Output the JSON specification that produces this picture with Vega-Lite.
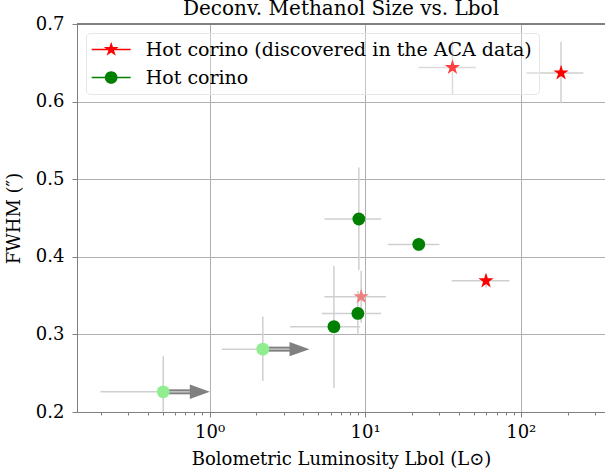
{
  "$schema": "https://vega.github.io/schema/vega-lite/v6.json",
  "width": 528,
  "height": 388,
  "autosize": {"type": "none"},
  "padding": {"left": 77, "top": 24, "right": 0, "bottom": 63},
  "background": "white",
  "title": {"text": "Deconv. Methanol Size vs. Lbol", "font": "DejaVu Serif", "fontSize": 20, "fontWeight": "normal", "color": "#000000", "anchor": "middle", "baseline": "alphabetic", "frame": "group", "offset": -20},
  "datasets": {
    "pts": [
      {"id": "s1", "group": "ACA", "L": 36.4, "Llo": 22.0, "Lhi": 51.4, "F": 0.644, "Flo": 0.61, "Fhi": 0.678},
      {"id": "s2", "group": "ACA", "L": 181.5, "Llo": 109, "Lhi": 252.6, "F": 0.637, "Flo": 0.598, "Fhi": 0.677},
      {"id": "s3", "group": "ACA", "L": 59.8, "Llo": 36.0, "Lhi": 84.5, "F": 0.369, "Flo": 0.36, "Fhi": 0.378},
      {"id": "s4", "group": "ACA (light)", "L": 9.43, "Llo": 5.48, "Lhi": 13.58, "F": 0.3486, "Flo": 0.315, "Fhi": 0.382},
      {"id": "g1", "group": "HC", "L": 9.11, "Llo": 5.48, "Lhi": 12.67, "F": 0.4487, "Flo": 0.383, "Fhi": 0.515},
      {"id": "g2", "group": "HC", "L": 22.1, "Llo": 14.0, "Lhi": 30.0, "F": 0.416, "Flo": 0.407, "Fhi": 0.425},
      {"id": "g3", "group": "HC", "L": 8.98, "Llo": 5.27, "Lhi": 12.67, "F": 0.327, "Flo": 0.299, "Fhi": 0.356},
      {"id": "g4", "group": "HC", "L": 6.3, "Llo": 3.3, "Lhi": 9.29, "F": 0.31, "Flo": 0.231, "Fhi": 0.388},
      {"id": "l1", "group": "HC (light)", "L": 2.2, "Llo": 1.2, "Lhi": 4.0, "F": 0.281, "Flo": 0.24, "Fhi": 0.323},
      {"id": "l2", "group": "HC (light)", "L": 0.504, "Llo": 0.199, "Lhi": 0.8, "F": 0.226, "Flo": 0.18, "Fhi": 0.272}
    ],
    "arrows": [
      {"L0": 0.504, "L1": 0.752, "Lh": 0.866, "F": 0.226},
      {"L0": 2.2, "L1": 3.3, "Lh": 3.785, "F": 0.281}
    ],
    "leg": [
      {"series": "Hot corino (discovered in the ACA data)", "L": 1, "F": 0.1},
      {"series": "Hot corino", "L": 1, "F": 0.1}
    ]
  },
  "config": {
    "view": {"stroke": null},
    "legend": {
      "orient": "top-left", "offset": 9, "padding": 6.5,
      "fillColor": "rgba(255,255,255,0.25)", "strokeColor": "#e6e6e6", "cornerRadius": 4,
      "labelFont": "DejaVu Serif", "labelFontSize": 19, "labelColor": "#000000", "labelLimit": 1000,
      "labelOffset": 24.5, "symbolOffset": 8.7, "rowPadding": 8, "symbolStrokeWidth": 0, "symbolSize": 400
    }
  },
  "layer": [
    {
      "data": {"name": "pts"},
      "mark": {"type": "rule", "color": "#cfcfcf", "strokeWidth": 1.5, "clip": true},
      "encoding": {
        "x": {"field": "Llo", "type": "quantitative", "title": "Bolometric Luminosity Lbol (L⊙)",
          "scale": {"type": "log", "domain": [0.1407, 347.8], "nice": false},
          "axis": {
            "values": [0.2, 0.3, 0.4, 0.5, 0.6, 0.7, 0.8, 0.9, 1, 2, 3, 4, 5, 6, 7, 8, 9, 10, 20, 30, 40, 50, 60, 70, 80, 90, 100, 200, 300],
            "labelExpr": "datum.value == 1 ? '10⁰' : datum.value == 10 ? '10¹' : datum.value == 100 ? '10²' : ''",
            "grid": true, "gridColor": "#b0b0b0", "gridWidth": 1,
            "gridOpacity": {"condition": {"test": "datum.value == 1 || datum.value == 10 || datum.value == 100", "value": 1}, "value": 0},
            "tickSize": {"condition": {"test": "datum.value == 1 || datum.value == 10 || datum.value == 100", "value": 5}, "value": 3},
            "tickColor": "#808080", "domainColor": "#808080",
            "labelFont": "DejaVu Serif", "labelFontSize": 18, "labelColor": "#000000", "labelPadding": 6,
            "labelOverlap": false, "labelFlush": false,
            "titleFont": "DejaVu Serif", "titleFontSize": 18, "titleFontWeight": "normal", "titleColor": "#000000",
            "titleBaseline": "alphabetic", "titleY": 52
          }
        },
        "x2": {"field": "Lhi"},
        "y": {"field": "F", "type": "quantitative", "title": "FWHM (″)",
          "scale": {"domain": [0.2, 0.7], "nice": false, "zero": false},
          "axis": {
            "values": [0.2, 0.3, 0.4, 0.5, 0.6, 0.7], "format": ".1f",
            "grid": true, "gridColor": "#b0b0b0", "gridWidth": 1,
            "tickSize": 5, "tickColor": "#808080", "domainColor": "#808080",
            "labelFont": "DejaVu Serif", "labelFontSize": 18, "labelColor": "#000000", "labelPadding": 8,
            "titleFont": "DejaVu Serif", "titleFontSize": 18, "titleFontWeight": "normal", "titleColor": "#000000",
            "titleBaseline": "alphabetic", "titleX": -58
          }
        }
      }
    },
    {
      "data": {"name": "pts"},
      "mark": {"type": "rule", "color": "#cfcfcf", "strokeWidth": 1.5, "clip": true},
      "encoding": {
        "x": {"field": "L", "type": "quantitative", "title": "Bolometric Luminosity Lbol (L⊙)", "scale": {"type": "log", "domain": [0.1407, 347.8], "nice": false}},
        "y": {"field": "Flo", "type": "quantitative", "title": "FWHM (″)", "scale": {"domain": [0.2, 0.7], "nice": false, "zero": false}},
        "y2": {"field": "Fhi"}
      }
    },
    {
      "data": {"name": "pts"},
      "mark": {"type": "rule", "color": "#808080", "strokeWidth": 1},
      "encoding": {
        "y": {"datum": 0.7, "type": "quantitative", "scale": {"domain": [0.2, 0.7], "nice": false, "zero": false}}
      }
    },
    {
      "data": {"name": "arrows"},
      "mark": {"type": "rule", "color": "#808080", "strokeWidth": 5},
      "encoding": {
        "x": {"field": "L0", "type": "quantitative", "title": "Bolometric Luminosity Lbol (L⊙)", "scale": {"type": "log", "domain": [0.1407, 347.8], "nice": false}},
        "x2": {"field": "L1"},
        "y": {"field": "F", "type": "quantitative", "title": "FWHM (″)", "scale": {"domain": [0.2, 0.7], "nice": false, "zero": false}}
      }
    },
    {
      "data": {"name": "arrows"},
      "mark": {"type": "rule", "color": "#c4c4c4", "strokeWidth": 1.5},
      "encoding": {
        "x": {"field": "L0", "type": "quantitative", "title": "Bolometric Luminosity Lbol (L⊙)", "scale": {"type": "log", "domain": [0.1407, 347.8], "nice": false}},
        "x2": {"field": "L1"},
        "y": {"field": "F", "type": "quantitative", "title": "FWHM (″)", "scale": {"domain": [0.2, 0.7], "nice": false, "zero": false}}
      }
    },
    {
      "data": {"name": "arrows"},
      "mark": {"type": "point", "shape": "M-1,-0.72L1,0L-1,0.72Z", "size": 400, "filled": true, "opacity": 1, "color": "#808080", "strokeWidth": 0},
      "encoding": {
        "x": {"field": "Lh", "type": "quantitative", "title": "Bolometric Luminosity Lbol (L⊙)", "scale": {"type": "log", "domain": [0.1407, 347.8], "nice": false}},
        "y": {"field": "F", "type": "quantitative", "title": "FWHM (″)", "scale": {"domain": [0.2, 0.7], "nice": false, "zero": false}}
      }
    },
    {
      "data": {"name": "pts"},
      "transform": [{"filter": "datum.group == 'HC' || datum.group == 'HC (light)'"}],
      "mark": {"type": "point", "shape": "circle", "size": 165, "filled": true, "opacity": 1, "strokeWidth": 0},
      "encoding": {
        "x": {"field": "L", "type": "quantitative", "title": "Bolometric Luminosity Lbol (L⊙)", "scale": {"type": "log", "domain": [0.1407, 347.8], "nice": false}},
        "y": {"field": "F", "type": "quantitative", "title": "FWHM (″)", "scale": {"domain": [0.2, 0.7], "nice": false, "zero": false}},
        "fill": {"field": "group", "type": "nominal", "scale": {"domain": ["ACA", "ACA (light)", "HC", "HC (light)"], "range": ["#ff0000", "#f08080", "#008000", "#90ee90"]}, "legend": null}
      }
    },
    {
      "data": {"name": "pts"},
      "transform": [{"filter": "datum.group == 'ACA' || datum.group == 'ACA (light)'"}],
      "mark": {"type": "point", "shape": "M0,-1L0.2245,-0.309L0.9511,-0.309L0.3633,0.118L0.5878,0.809L0,0.382L-0.5878,0.809L-0.3633,0.118L-0.9511,-0.309L-0.2245,-0.309Z", "size": 260, "filled": true, "opacity": 1, "strokeWidth": 0},
      "encoding": {
        "x": {"field": "L", "type": "quantitative", "title": "Bolometric Luminosity Lbol (L⊙)", "scale": {"type": "log", "domain": [0.1407, 347.8], "nice": false}},
        "y": {"field": "F", "type": "quantitative", "title": "FWHM (″)", "scale": {"domain": [0.2, 0.7], "nice": false, "zero": false}},
        "fill": {"field": "group", "type": "nominal", "scale": {"domain": ["ACA", "ACA (light)", "HC", "HC (light)"], "range": ["#ff0000", "#f08080", "#008000", "#90ee90"]}, "legend": null}
      }
    },
    {
      "data": {"name": "leg"},
      "mark": {"type": "point", "filled": true, "size": 400, "opacity": 1, "clip": true, "strokeWidth": 0},
      "encoding": {
        "x": {"field": "L", "type": "quantitative", "title": "Bolometric Luminosity Lbol (L⊙)", "scale": {"type": "log", "domain": [0.1407, 347.8], "nice": false}},
        "y": {"field": "F", "type": "quantitative", "title": "FWHM (″)", "scale": {"domain": [0.2, 0.7], "nice": false, "zero": false}},
        "color": {"field": "series", "type": "nominal",
          "scale": {"domain": ["Hot corino (discovered in the ACA data)", "Hot corino"], "range": ["#ff0000", "#008000"]},
          "legend": {"title": null}
        },
        "shape": {"field": "series", "type": "nominal",
          "scale": {"domain": ["Hot corino (discovered in the ACA data)", "Hot corino"], "range": [
            "M-1.95,-0.075L1.95,-0.075L1.95,0.075L-1.95,0.075ZM0,-0.78L0.175,-0.241L0.742,-0.241L0.283,0.092L0.4585,0.631L0,0.298L-0.4585,0.631L-0.283,0.092L-0.742,-0.241L-0.175,-0.241Z",
            "M-1.95,-0.075L1.95,-0.075L1.95,0.075L-1.95,0.075ZM0.635,0A0.635,0.635,0,1,1,-0.635,0A0.635,0.635,0,1,1,0.635,0Z"
          ]},
          "legend": {"title": null}
        }
      }
    }
  ]
}
